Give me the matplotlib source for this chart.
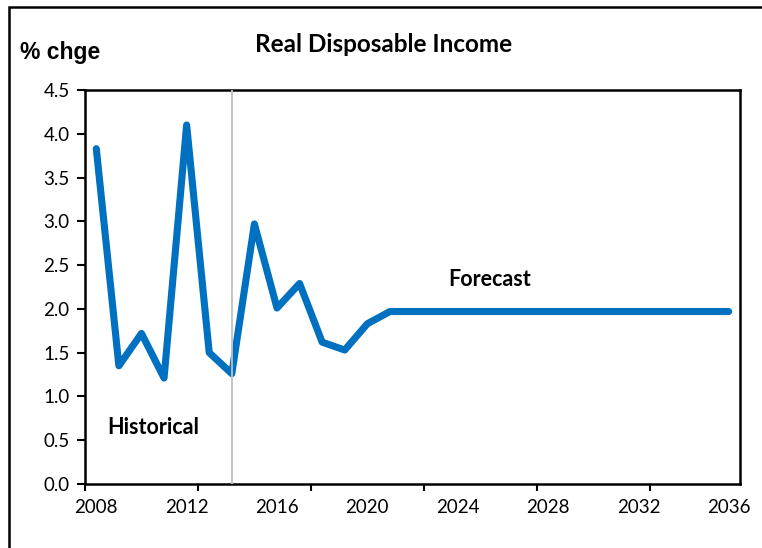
import numpy as np
import matplotlib.pyplot as plt
from matplotlib.patches import Rectangle

# real disposable income, % change
years = list(range(2008, 2037))
rdi = [3.83, 1.35, 1.72, 1.21, 4.10, 1.50, 1.26, 2.97, 2.01, 2.29, 1.62, 1.53,
       1.83, 1.97, 1.97, 1.97, 1.97, 1.97, 1.97, 1.97, 1.97, 1.97, 1.97, 1.97,
       1.97, 1.97, 1.97, 1.97, 1.97]
split_year = 2014
label_years = [2008, 2012, 2016, 2020, 2024, 2028, 2032, 2036]
y_ticks = [0.0, 0.5, 1.0, 1.5, 2.0, 2.5, 3.0, 3.5, 4.0, 4.5]

blue = '#0070C0'
font = ['Lato', 'DejaVu Sans']

fig = plt.figure(figsize=(7.62, 5.48), dpi=100)
ax = fig.add_axes([85/762, 1 - 484/548, (740 - 85)/762, (484 - 90)/548])

ax.plot(years, rdi, color=blue, lw=5.1, solid_capstyle='round',
        solid_joinstyle='round', zorder=3)
# divider between historical and forecast sits on top of the line
ax.axvline(split_year, color='#C0C0C0', lw=1.3, zorder=4)

ax.set_xlim(2007.5, 2036.5)
ax.set_ylim(0, 4.5)

# labels every 4 years, tick marks every 5 categories (like the excel axis)
ax.set_xticks(label_years)
ax.set_xticklabels([str(y) for y in label_years], family=font, fontsize=13.5)
ax.tick_params(axis='x', which='major', length=0, pad=11)
ax.set_xticks(np.arange(2007.5, 2036.5, 5), minor=True)
ax.tick_params(axis='x', which='minor', length=5, width=1.5, direction='out')

ax.set_yticks(y_ticks)
ax.set_yticklabels([f'{v:.1f}' for v in y_ticks], family=font, fontsize=13.5)
ax.tick_params(axis='y', length=6, width=1.5, direction='out', pad=5)

for s in ax.spines.values():
    s.set_linewidth(1.8)
    s.set_color('black')

ax.text(2010.5, 0.65, 'Historical', family=font, fontweight='bold',
        fontsize=15.5, ha='center', va='center')
ax.text(2025.4, 2.34, 'Forecast', family=font, fontweight='bold',
        fontsize=15.5, ha='center', va='center')

fig.text(384/762, 1 - 44/548, 'Real Disposable Income', family=font,
         fontweight='bold', fontsize=17.5, ha='center', va='center')
fig.text(20/762, 1 - 52/548, '% chge', family=['Liberation Sans', 'DejaVu Sans'],
         fontweight='bold', fontsize=16.5, ha='left', va='center')

# outer border of the chart (right and bottom edges fall outside the image)
fig.patches.append(Rectangle((9/762, -0.05), 1.2, 1 - 7/548 + 0.05,
                             transform=fig.transFigure, fill=False,
                             edgecolor='black', lw=1.8))

fig.savefig('out.png', dpi=100)
